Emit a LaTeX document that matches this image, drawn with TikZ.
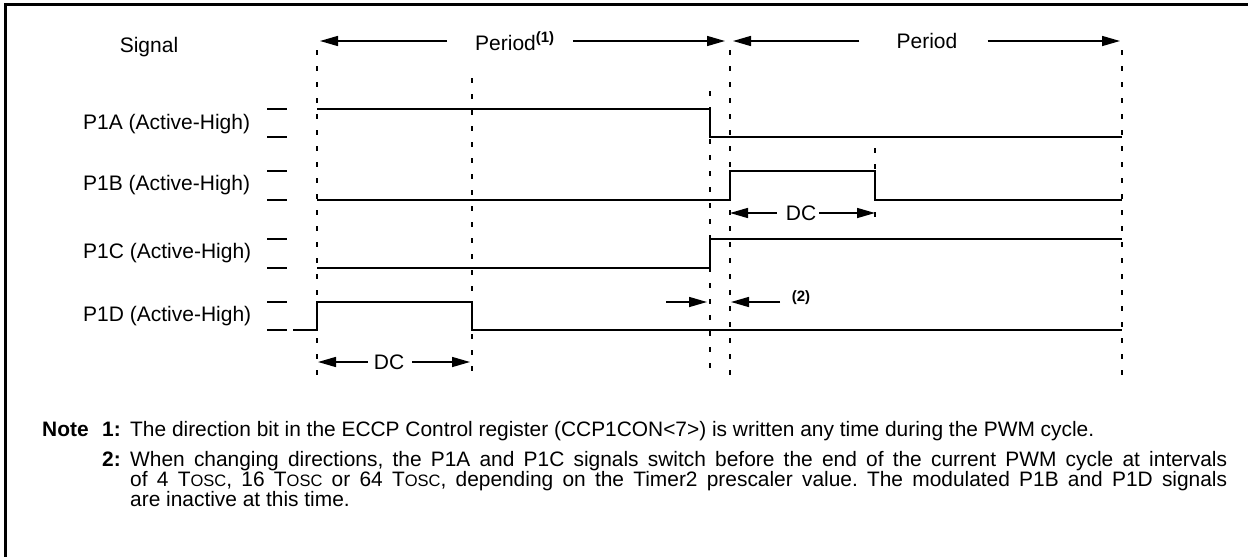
\documentclass[tikz,border=0pt]{standalone}
\usepackage{fontspec}
\setmainfont{Liberation Sans}
\usetikzlibrary{arrows.meta}
\frenchspacing
\newcommand{\osc}{{\fontsize{16.5}{16.5}\selectfont OSC}}
\begin{document}
\begin{tikzpicture}[x=1pt,y=-1pt,
  sig/.style={line width=1.5pt},
  tick/.style={line width=1.5pt},
  guide/.style={line width=1.4pt,dash pattern=on 5pt off 11pt},
  dim/.style={line width=1.5pt,-{Triangle[length=18pt,width=10pt]}},
  lbl/.style={font=\fontsize{21}{25}\selectfont,inner sep=0pt},
  note/.style={font=\fontsize{20.9}{23}\selectfont,inner sep=0pt,anchor=base west},
  notebf/.style={note,font=\fontsize{20.9}{23}\selectfont\bfseries}]
\useasboundingbox (0,0) rectangle (1248,557);
% frame
\draw[line width=3pt] (5.5,557) -- (5.5,4) -- (1248,4);

% signal labels
\node[lbl] (sig) at (149,47) {Signal};
\node[lbl,anchor=west] (la) at (83,124) {P1A (Active-High)};
\node[lbl,anchor=west] (lb) at (83,185) {P1B (Active-High)};
\node[lbl,anchor=west] (lc) at (83,253) {P1C (Active-High)};
\node[lbl,anchor=west] (ld) at (83,316) {P1D (Active-High)};

% level ticks
\foreach \y in {109,137,171,200,239,268,302,330}
  \draw[tick] (267,\y) -- (287,\y);

% guide lines
\coordinate (g1t) at (317,50);  \coordinate (g1b) at (317,378);
\coordinate (g2t) at (472,78);  \coordinate (g2b) at (472,378);
\coordinate (g3t) at (710,91);  \coordinate (g3b) at (710,378);
\coordinate (g4t) at (730,50);  \coordinate (g4b) at (730,378);
\coordinate (g5t) at (875,148); \coordinate (g5b) at (875,224);
\coordinate (g6t) at (1122,50); \coordinate (g6b) at (1122,378);
\foreach \g in {1,...,6} \draw[guide] (g\g t) -- (g\g b);

% waveforms
\draw[sig] (317,109) -- (710,109) -- (710,137) -- (1122,137);
\draw[sig] (317,200) -- (730,200) -- (730,171) -- (875,171) -- (875,200) -- (1122,200);
\draw[sig] (317,268) -- (710,268) -- (710,239) -- (1122,239);
\draw[sig] (293,330) -- (317,330) -- (317,302) -- (472,302) -- (472,330) -- (1122,330);

% period arrows
\node[lbl,anchor=west] (per1) at (475,41) {Period\textsuperscript{\fontsize{15}{15}\selectfont\bfseries(1)}};
\node[lbl] (per2) at (927,41) {Period};
\coordinate (p1l) at (320,41); \coordinate (p1r) at (725,41);
\coordinate (p2l) at (733,41); \coordinate (p2r) at (1120,41);
\draw[dim] (per1.west) ++(-28,0) -- (p1l);
\draw[dim] (per1.east) ++(18,0) -- (p1r);
\draw[dim] (per2.west) ++(-37,0) -- (p2l);
\draw[dim] (per2.east) ++(30,0) -- (p2r);

% DC arrows
\node[lbl] (dc1) at (389,362) {DC};
\draw[dim] (dc1.west) ++(-6,0) -- (318,362);
\draw[dim] (dc1.east) ++(8,0) -- (470,362);
\node[lbl] (dc2) at (801,213) {DC};
\draw[dim] (dc2.west) ++(-9,0) -- (730,213);
\draw[dim] (dc2.east) ++(3,0) -- (875,213);

% (2) arrows
\coordinate (a2s) at (666,302); \coordinate (a2e) at (707,302);
\coordinate (b2s) at (780,302); \coordinate (b2e) at (731,302);
\draw[dim] (a2s) -- (a2e);
\draw[dim] (b2s) -- (b2e);
\node[inner sep=0pt,font=\fontsize{15}{15}\selectfont\bfseries] (n2) at (801,298) {(2)};

% notes
\node[notebf] (nl) at (42,436) {Note};
\node[notebf] (n1) at (102,436) {1:};
\node[note] (t1) at (130,436) {The direction bit in the ECCP Control register (CCP1CON<7>) is written any time during the PWM cycle.};
\node[notebf] (n2l) at (102,466) {2:};
\node[note] (t2a) at (130,466) {\makebox[1097pt][s]{When changing directions, the P1A and P1C signals switch before the end of the current PWM cycle at intervals}};
\node[note] (t2b) at (130,486) {\makebox[1097pt][s]{of 4 T\osc, 16 T\osc{} or 64 T\osc, depending on the Timer2 prescaler value. The modulated P1B and P1D signals}};
\node[note] (t2c) at (130,506) {are inactive at this time.};
\end{tikzpicture}
\end{document}
